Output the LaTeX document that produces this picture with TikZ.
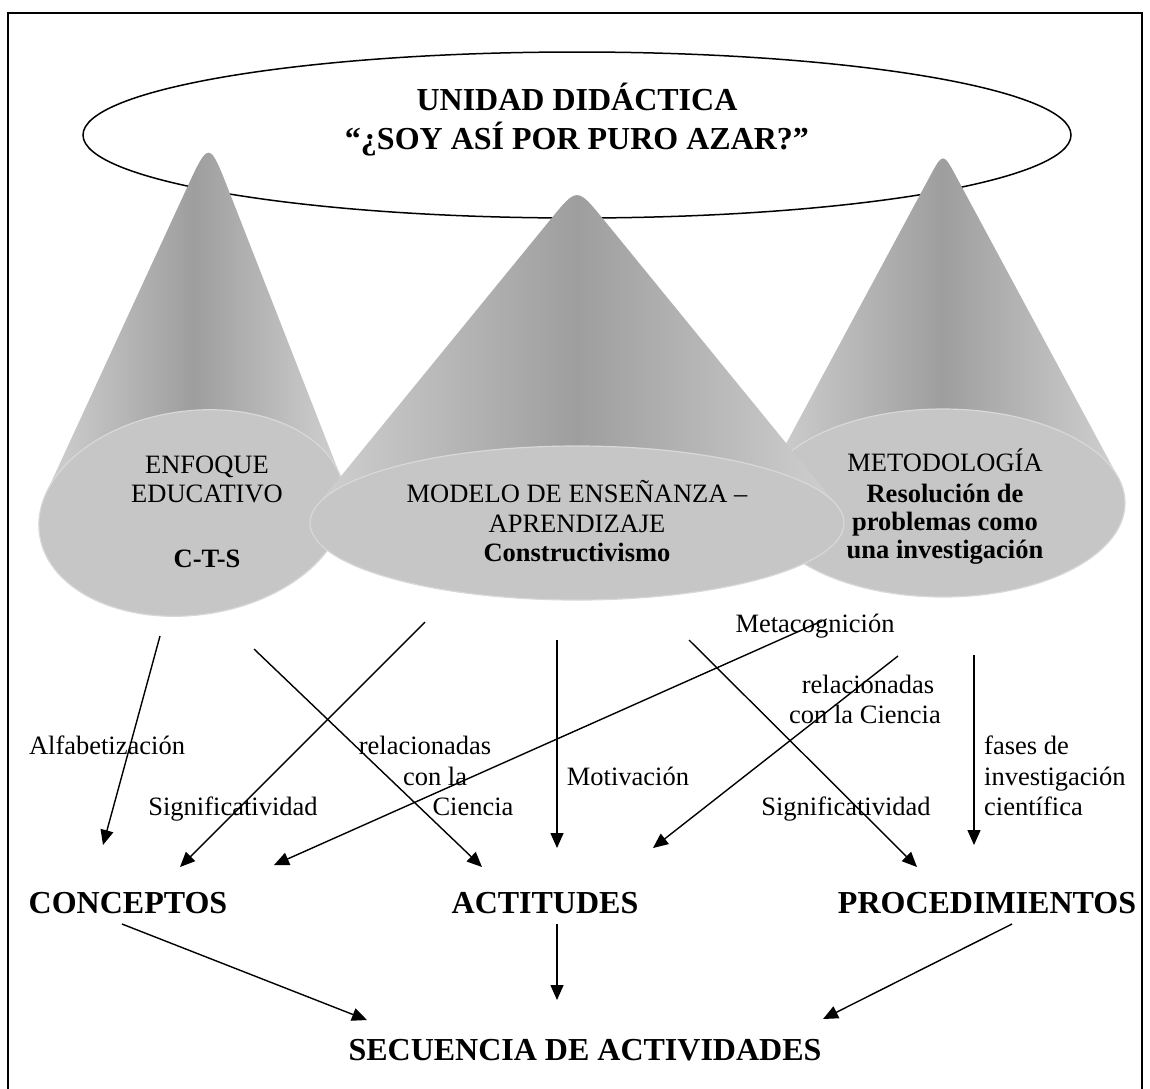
\documentclass[tikz,border=0pt]{standalone}
\usepackage{fontspec}
\setmainfont{Liberation Serif}
\usetikzlibrary{arrows.meta,calc}

\definecolor{conelight}{HTML}{D0D0D0}
\definecolor{conedark}{HTML}{9E9E9E}
\definecolor{basefill}{HTML}{C6C6C6}
\definecolor{baserim}{HTML}{D8D8D8}

% #1 name, #2 #3 apex, #4 #5 base centre, #6 #7 base radii, #8 base tilt, #9 tip rounding
\newcommand\drawcone[9]{%
  \pgfmathsetmacro\cnpsi{-(#8)}%
  \pgfmathsetmacro\cndx{(#2)-(#4)}%
  \pgfmathsetmacro\cndy{(#3)-(#5)}%
  \pgfmathsetmacro\cnu{(\cndx*cos(\cnpsi)+\cndy*sin(\cnpsi))/(#6)}%
  \pgfmathsetmacro\cnv{(-\cndx*sin(\cnpsi)+\cndy*cos(\cnpsi))/(#7)}%
  \pgfmathsetmacro\cnth{atan2(\cnv,\cnu)}%
  \pgfmathsetmacro\cnd{acos(1/sqrt(\cnu*\cnu+\cnv*\cnv))}%
  \pgfmathsetmacro\cnta{\cnth+\cnd}%
  \pgfmathsetmacro\cntb{\cnth-\cnd}%
  \pgfmathsetmacro\cnax{(#4)+(#6)*cos(\cnta)*cos(\cnpsi)-(#7)*sin(\cnta)*sin(\cnpsi)}%
  \pgfmathsetmacro\cnay{(#5)+(#6)*cos(\cnta)*sin(\cnpsi)+(#7)*sin(\cnta)*cos(\cnpsi)}%
  \pgfmathsetmacro\cnbx{(#4)+(#6)*cos(\cntb)*cos(\cnpsi)-(#7)*sin(\cntb)*sin(\cnpsi)}%
  \pgfmathsetmacro\cnby{(#5)+(#6)*cos(\cntb)*sin(\cnpsi)+(#7)*sin(\cntb)*cos(\cnpsi)}%
  \coordinate (#1-apex) at (#2,#3);
  \coordinate (#1-ta) at (\cnax,\cnay);
  \coordinate (#1-tb) at (\cnbx,\cnby);
  \shade[left color=conelight,right color=conelight,middle color=conedark]
    (#1-ta) -- ($(#1-apex)!#9pt!(#1-ta)$) .. controls (#1-apex) .. ($(#1-apex)!#9pt!(#1-tb)$) -- (#1-tb) -- cycle;
  \begin{scope}[shift={(#4,#5)},rotate=#8]
    \fill[basefill] (0,0) ellipse [x radius=#6pt,y radius=#7pt];
    \draw[baserim,line width=1.2pt] (0,0) ellipse [x radius=#6pt,y radius=#7pt];
  \end{scope}
}

\tikzset{
  lbl/.style={font=\fontsize{26.5}{30}\selectfont,inner sep=0pt,anchor=base},
  lblb/.style={lbl,font=\bfseries\fontsize{26.5}{30}\selectfont},
  big/.style={font=\bfseries\fontsize{32}{38}\selectfont,inner sep=0pt,anchor=base},
  arr/.style={line width=1.4pt,-{Triangle[length=15pt,width=13pt]}},
}

\begin{document}
\begin{tikzpicture}[x=1pt,y=-1pt]
\useasboundingbox (0,0) rectangle (1150,1088);
\fill[white] (0,0) rectangle (1150,1088);
\draw[line width=1.6pt] (8,13) rectangle (1142,1100);

% title oval
\draw[line width=1.5pt] (577,135) ellipse [x radius=494pt,y radius=83pt];
\node[big] (tit1) at (577,110) {UNIDAD DIDÁCTICA};
\node[big] (tit2) at (577,149) {“¿SOY ASÍ POR PURO AZAR?”};

% the three cones
\drawcone{izq}{209}{140}{192}{513}{154}{102}{8}{55}
\drawcone{der}{943}{152}{943}{503}{182}{94}{0}{29}
\drawcone{cen}{577}{187}{577}{523}{267}{77}{0}{42}

% cone labels
\node[lbl] (enf1) at (207,473) {ENFOQUE};
\node[lbl] (enf2) at (207,502) {EDUCATIVO};
\node[lblb] (enf3) at (207,567) {C-T-S};

\node[lbl] (mod1) at (577,502) {MODELO DE ENSEÑANZA –};
\node[lbl] (mod2) at (577,532) {APRENDIZAJE};
\node[lblb] (mod3) at (577,561) {Constructivismo};

\node[lbl] (met1) at (945,471) {METODOLOGÍA};
\node[lblb] (met2) at (945,502) {Resolución de};
\node[lblb] (met3) at (945,530) {problemas como};
\node[lblb] (met4) at (945,558) {una investigación};

% arrow labels
\node[lbl] (alf) at (107,754) {Alfabetización};
\node[lbl] (sig1) at (233,815) {Significatividad};
\node[lbl] (rel1) at (425,754) {relacionadas};
\node[lbl] (rel2) at (435,785) {con la};
\node[lbl] (rel3) at (473,815) {Ciencia};
\node[lbl] (mot) at (628,785) {Motivación};
\node[lbl] (meta) at (815,632) {Metacognición};
\node[lbl] (rel4) at (868,693) {relacionadas};
\node[lbl] (rel5) at (865,723) {con la Ciencia};
\node[lbl] (sig2) at (846,815) {Significatividad};
\node[lbl,anchor=base west] (fas1) at (984,754) {fases de};
\node[lbl,anchor=base west] (fas2) at (984,785) {investigación};
\node[lbl,anchor=base west] (fas3) at (984,815) {científica};

% content blocks
\node[big] (conc) at (128,913) {CONCEPTOS};
\node[big] (acti) at (545,913) {ACTITUDES};
\node[big] (proc) at (987,913) {PROCEDIMIENTOS};
\node[big] (secu) at (585,1060) {SECUENCIA DE ACTIVIDADES};

% arrow ends
\coordinate (a1s) at (160,636);  \coordinate (a1e) at (103,845);
\coordinate (a2s) at (425,622);  \coordinate (a2e) at (180,867);
\coordinate (a3s) at (254,649);  \coordinate (a3e) at (482,867);
\coordinate (a4s) at (557,640);  \coordinate (a4e) at (557,848);
\coordinate (a5s) at (822,621);  \coordinate (a5e) at (274,865);
\coordinate (a6s) at (689,640);  \coordinate (a6e) at (917,867);
\coordinate (a7s) at (898,656);  \coordinate (a7e) at (653,848);
\coordinate (a8s) at (974,655);  \coordinate (a8e) at (974,845);
\coordinate (b1s) at (122,924);  \coordinate (b1e) at (367,1020);
\coordinate (b2s) at (557,924);  \coordinate (b2e) at (557,1000);
\coordinate (b3s) at (1012,924); \coordinate (b3e) at (823,1019);

\foreach \p in {a1,a2,a3,a4,a5,a6,a7,a8,b1,b2,b3}
  \draw[arr] (\p s) -- (\p e);
\end{tikzpicture}
\end{document}
